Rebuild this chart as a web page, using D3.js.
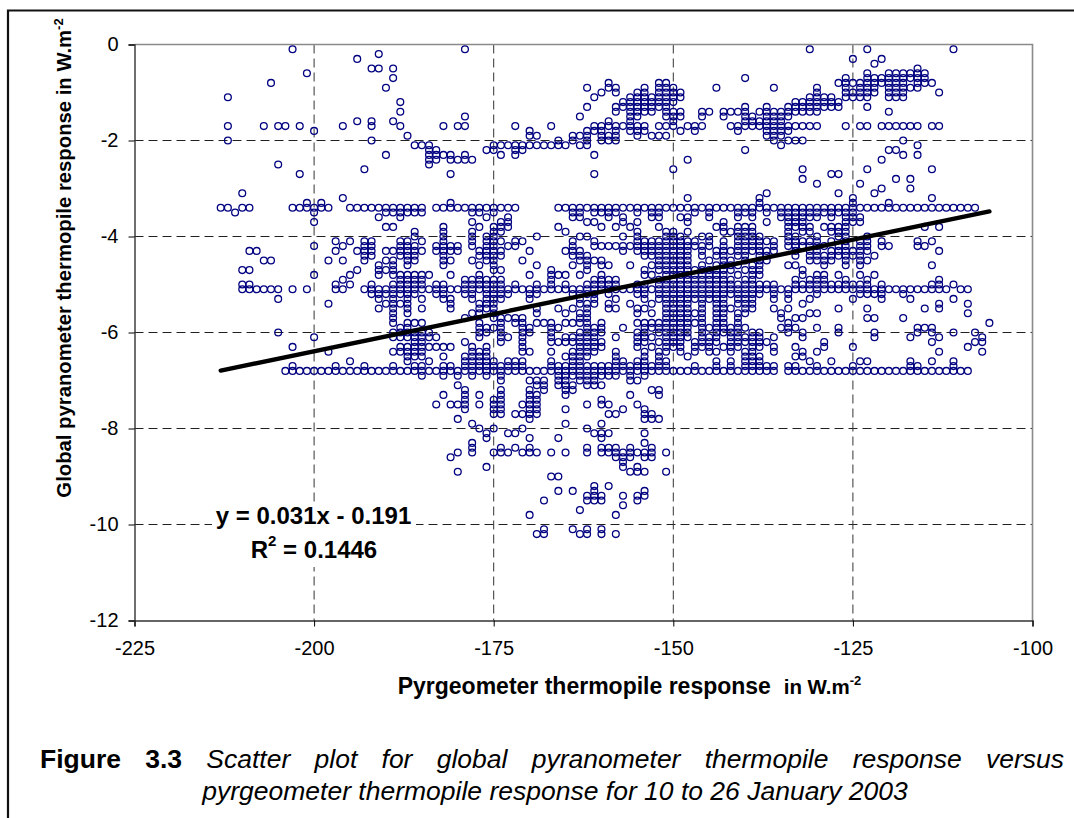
<!DOCTYPE html>
<html lang = 'en'>
    <head>
        <meta charset = 'UTF-8'>
        <title>Figure 3.3</title>
        <script src="https://cdn.jsdelivr.net/npm/d3@7"></script>
        <style>
            body {
                margin: 0;
                background: #fff;
                overflow: hidden;
            }
            text {
                font-family: "Liberation Sans", Arial, sans-serif;
                fill: #000;
            }
            .tickLabel text {
                font-size: 20px;
            }
            .axisTitle {
                font-weight: bold;
            }
            .equation {
                font-size: 24px;
                font-weight: bold;
            }
            .caption {
                font-size: 26.5px;
            }
        </style>
    </head>
    <body>
        <svg id="fig" width="1074" height="818"></svg>
        <script>
            // y values of each row of points, the instrument steps in 0.1 W/m2
            let levels = [-0.1,-0.2,-0.3,-0.4,-0.5,-0.6,-0.7,-0.8,-0.9,-1.0,-1.1,-1.2,-1.3,-1.4,-1.5,-1.6,-1.7,-1.8,-1.9,-2.0,
                -2.1,-2.2,-2.3,-2.4,-2.5,-2.6,-2.7,-2.8,-2.9,-3.0,-3.1,-3.2,-3.3,-3.4,-3.5,-3.6,-3.7,-3.8,-3.9,-4.0,
                -4.1,-4.2,-4.3,-4.4,-4.5,-4.6,-4.7,-4.8,-4.9,-5.0,-5.1,-5.2,-5.3,-5.4,-5.5,-5.6,-5.7,-5.8,-5.9,-6.0,
                -6.1,-6.2,-6.3,-6.4,-6.5,-6.6,-6.7,-6.8,-6.9,-7.0,-7.1,-7.2,-7.3,-7.4,-7.5,-7.6,-7.7,-7.8,-7.9,-8.0,
                -8.1,-8.2,-8.3,-8.4,-8.5,-8.6,-8.7,-8.8,-8.9,-9.0,-9.2,-9.3,-9.4,-9.5,-9.6,-9.7,-9.8,-10.1,-10.2]

            // x values for each level above, same order
            let levelXs = [
                [-203,-179,-131,-123,-111],
                [-191],
                [-194,-125,-121],
                [-122],
                [-192,-191,-189,-116],
                [-201,-123,-120,-119,-118,-117,-116,-115],
                [-189,-140,-126,-123,-122,-121,-120,-119,-118,-117,-116,-115],
                [-206,-159,-152,-151,-127,-126,-125,-124,-123,-122,-121,-120,-119,-118,-116,-115,-114],
                [-190,-162,-159,-158,-154,-152,-151,-150,-144,-136,-130,-126,-124,-123,-122,-120,-119,-118,-117,-116],
                [-160,-158,-155,-154,-152,-151,-150,-149,-130,-126,-125,-124,-123,-122,-120,-119,-118,-113],
                [-212,-161,-156,-155,-154,-153,-152,-151,-150,-149,-131,-130,-129,-128,-126,-125,-124,-123,-120,-119,-118],
                [-188,-157,-156,-155,-154,-153,-152,-151,-150,-133,-132,-131,-130,-129,-128,-127],
                [-162,-158,-157,-156,-155,-154,-153,-152,-151,-140,-137,-134,-133,-132,-131,-130,-129,-128,-127,-123],
                [-188,-158,-156,-155,-154,-153,-151,-150,-149,-146,-145,-143,-142,-141,-140,-138,-137,-136,-135,-134,-133,-132,-131,-130,-120],
                [-179,-163,-156,-155,-151,-150,-149,-146,-143,-140,-139,-137,-136,-135,-134],
                [-194,-192,-189,-159,-156,-150,-140,-139,-138,-137,-136,-135],
                [-212,-207,-205,-204,-202,-196,-192,-188,-182,-180,-179,-172,-167,-161,-160,-159,-158,-157,-156,-155,-154,-152,-151,-150,-148,-147,-146,-142,-141,-140,-139,-138,-137,-136,-135,-134,-133,-132,-131,-130,-126,-124,-123,-121,-120,-119,-118,-117,-116,-114,-113],
                [-200,-170,-162,-161,-160,-158,-156,-155,-154,-149,-147,-141,-137,-136,-135,-134],
                [-187,-170,-169,-164,-163,-162,-160,-159,-158,-155,-153,-152,-151,-137,-136,-135],
                [-212,-192,-166,-164,-162,-160,-159,-158,-136,-134,-133,-132,-118],
                [-186,-185,-184,-175,-174,-173,-172,-171,-170,-169,-168,-167,-166,-165,-163,-162,-135,-116],
                [-184,-183,-176,-175,-172,-171,-140,-120,-119],
                [-190,-184,-183,-182,-181,-179,-174,-172,-161,-118,-116],
                [-184,-183,-181,-180,-179,-178,-148,-121],
                [-205,-184],
                [-193,-150,-132,-123,-114],
                [-202,-181,-161,-128,-127],
                [-132,-119,-117],
                [-130,-124],
                [-121,-117],
                [-210,-137,-127,-122],
                [-196,-148,-138,-125,-114],
                [-201,-199,-181,-138,-125,-120],
                [-213,-212,-210,-209,-203,-202,-201,-200,-199,-198,-195,-194,-193,-192,-191,-190,-189,-188,-187,-186,-185,-183,-182,-181,-180,-179,-178,-177,-176,-175,-174,-173,-172,-166,-165,-164,-163,-162,-161,-160,-159,-158,-157,-156,-155,-154,-153,-152,-151,-150,-149,-148,-147,-146,-145,-144,-143,-142,-141,-140,-139,-138,-137,-136,-135,-134,-133,-132,-131,-130,-129,-128,-127,-126,-125,-124,-123,-122,-121,-120,-119,-118,-117,-116,-115,-114,-113,-112,-111,-110,-109,-108],
                [-211,-200,-190,-189,-188,-187,-186,-185,-178,-177,-175,-164,-163,-161,-160,-159,-158,-155,-153,-152,-147,-145,-141,-140,-139,-137,-135,-134,-133,-132,-131,-130,-129,-128,-127,-126,-125],
                [-191,-188,-176,-173,-164,-163,-159,-157,-153,-152,-149,-148,-145,-141,-139,-135,-134,-133,-132,-131,-130,-128,-126,-125,-124],
                [-200,-178,-174,-173,-162,-161,-157,-155,-148,-143,-137,-134,-133,-132,-126,-125,-124],
                [-190,-189,-182,-177,-175,-174,-173,-166,-160,-158,-156,-152,-144,-143,-141,-140,-139,-134,-133,-132,-131,-129,-128,-127,-126,-115,-113],
                [-186,-182,-178,-175,-174,-165,-155,-151,-150,-148,-143,-142,-141,-140,-139,-134,-132,-131,-128,-127,-126],
                [-186,-182,-178,-176,-175,-169,-163,-162,-157,-155,-151,-150,-149,-146,-145,-141,-140,-139,-138,-134,-133,-130,-127,-126,-123],
                [-197,-195,-193,-192,-188,-187,-185,-182,-178,-176,-175,-174,-172,-171,-164,-161,-155,-154,-153,-152,-151,-150,-149,-148,-147,-145,-143,-141,-140,-139,-138,-137,-136,-134,-133,-132,-131,-130,-128,-126,-124,-123,-121,-116,-114],
                [-200,-196,-193,-192,-188,-187,-186,-183,-182,-181,-180,-178,-176,-175,-173,-172,-164,-161,-160,-159,-158,-157,-156,-155,-154,-153,-152,-151,-150,-149,-148,-147,-146,-145,-143,-141,-140,-139,-138,-136,-134,-133,-132,-131,-130,-129,-127,-126,-124,-123,-121,-120,-116,-115],
                [-209,-208,-197,-194,-193,-192,-190,-189,-188,-187,-186,-185,-183,-182,-181,-180,-177,-176,-175,-174,-170,-165,-164,-163,-157,-155,-154,-153,-152,-151,-150,-149,-148,-146,-144,-143,-142,-141,-140,-139,-138,-137,-136,-133,-131,-130,-128,-127,-126,-125,-124,-123,-113],
                [-193,-192,-188,-187,-186,-182,-177,-176,-175,-174,-164,-163,-162,-154,-153,-152,-151,-150,-149,-148,-146,-144,-143,-141,-140,-138,-137,-133,-131,-130,-129,-128,-127,-126,-125,-124,-122],
                [-207,-206,-198,-196,-193,-190,-189,-187,-186,-182,-181,-178,-176,-175,-171,-163,-162,-161,-160,-152,-151,-150,-149,-148,-145,-143,-142,-140,-138,-137,-131,-130,-129,-128,-126,-124,-123],
                [-191,-189,-187,-182,-177,-175,-169,-164,-162,-160,-159,-156,-153,-152,-151,-150,-149,-148,-146,-144,-143,-142,-141,-139,-138,-134,-133,-129,-126,-124,-114],
                [-210,-209,-194,-191,-190,-189,-175,-174,-167,-162,-154,-152,-151,-150,-149,-148,-147,-146,-145,-144,-143,-142,-140,-139,-138,-132],
                [-200,-195,-191,-189,-188,-187,-186,-185,-184,-181,-177,-170,-167,-166,-165,-163,-160,-154,-153,-151,-150,-149,-148,-147,-146,-145,-144,-143,-141,-139,-138,-132,-130,-129,-127,-124,-122],
                [-196,-188,-187,-186,-185,-179,-178,-177,-176,-175,-174,-167,-161,-160,-159,-158,-152,-151,-150,-149,-148,-147,-146,-145,-144,-143,-142,-140,-139,-133,-131,-130,-129,-126,-123,-113],
                [-210,-209,-197,-195,-192,-189,-188,-187,-186,-185,-183,-182,-179,-178,-177,-176,-175,-174,-172,-169,-167,-165,-162,-161,-160,-159,-158,-155,-154,-152,-151,-150,-149,-148,-147,-146,-145,-144,-143,-142,-141,-140,-139,-138,-137,-136,-133,-132,-131,-130,-129,-128,-127,-126,-125,-124,-123,-121,-114,-113,-111],
                [-210,-209,-208,-207,-206,-205,-203,-201,-197,-196,-193,-192,-191,-190,-189,-188,-187,-186,-185,-184,-183,-182,-181,-180,-179,-178,-177,-176,-175,-174,-173,-172,-171,-170,-169,-168,-167,-166,-165,-164,-163,-162,-161,-160,-159,-158,-157,-156,-155,-154,-153,-152,-151,-150,-149,-148,-147,-146,-145,-144,-143,-142,-141,-140,-139,-138,-137,-136,-135,-134,-133,-132,-131,-130,-129,-128,-127,-126,-125,-124,-123,-122,-121,-120,-119,-118,-117,-116,-115,-114,-113,-112,-110,-109],
                [-192,-191,-190,-189,-188,-187,-186,-183,-182,-179,-178,-176,-175,-174,-173,-170,-169,-164,-163,-162,-161,-159,-155,-154,-152,-151,-150,-149,-148,-147,-146,-145,-144,-143,-142,-141,-140,-139,-138,-136,-134,-130,-124,-123,-122,-121,-118],
                [-205,-191,-189,-187,-185,-182,-181,-178,-176,-175,-174,-170,-163,-161,-158,-154,-152,-151,-150,-149,-148,-147,-146,-145,-144,-143,-141,-140,-139,-136,-134,-131,-125,-121,-117,-111],
                [-198,-190,-189,-188,-187,-181,-177,-176,-175,-163,-162,-161,-159,-156,-153,-151,-150,-149,-148,-146,-144,-143,-141,-140,-139,-132,-113,-109],
                [-191,-189,-187,-185,-181,-177,-176,-175,-169,-166,-164,-162,-159,-158,-155,-154,-151,-150,-149,-148,-146,-144,-143,-142,-140,-139,-136,-134,-127,-123,-115,-113],
                [-189,-187,-178,-177,-175,-169,-165,-163,-162,-155,-153,-151,-150,-149,-148,-147,-146,-144,-143,-141,-140,-135,-131,-130,-109],
                [-189,-179,-175,-174,-173,-172,-171,-163,-162,-151,-150,-149,-148,-146,-144,-143,-141,-135,-133,-132,-123,-122,-118],
                [-189,-187,-186,-185,-177,-174,-172,-171,-169,-168,-167,-165,-164,-163,-162,-160,-155,-154,-153,-152,-151,-150,-149,-148,-147,-146,-144,-143,-141,-134,-106],
                [-188,-187,-177,-176,-175,-174,-171,-170,-167,-166,-162,-161,-160,-157,-154,-153,-152,-151,-150,-149,-148,-146,-145,-144,-143,-142,-141,-140,-135,-134,-133,-130,-127,-116,-115,-114],
                [-205,-189,-188,-187,-186,-185,-184,-177,-176,-174,-171,-170,-167,-163,-162,-161,-160,-155,-154,-152,-151,-150,-149,-148,-146,-144,-143,-142,-141,-139,-138,-134,-132,-127,-122,-116,-114,-111,-108],
                [-200,-189,-188,-187,-186,-185,-184,-183,-177,-174,-173,-171,-167,-165,-164,-163,-162,-161,-158,-155,-154,-153,-151,-150,-149,-148,-146,-145,-144,-142,-141,-140,-139,-138,-136,-132,-122,-117,-113,-107],
                [-186,-185,-179,-174,-171,-167,-166,-165,-164,-163,-162,-161,-160,-155,-154,-152,-151,-150,-149,-147,-146,-145,-144,-142,-141,-140,-139,-138,-137,-129,-114,-108,-107],
                [-203,-188,-187,-186,-185,-184,-183,-182,-181,-178,-176,-171,-163,-162,-161,-160,-155,-153,-151,-150,-149,-147,-146,-145,-143,-142,-141,-139,-138,-136,-133,-129,-125,-109],
                [-198,-189,-188,-187,-186,-185,-178,-177,-176,-171,-170,-167,-164,-163,-162,-161,-158,-154,-152,-151,-149,-147,-145,-144,-142,-140,-139,-136,-132,-130,-113,-107],
                [-187,-186,-185,-182,-179,-178,-177,-176,-165,-164,-163,-162,-158,-154,-152,-148,-140,-139,-138,-133,-132],
                [-195,-187,-184,-179,-178,-177,-176,-175,-173,-172,-171,-167,-164,-163,-158,-157,-155,-154,-152,-151,-144,-142,-140,-139,-138,-131,-128,-124,-123,-117,-114,-111],
                [-203,-197,-193,-189,-186,-185,-182,-181,-179,-178,-177,-176,-175,-174,-173,-172,-171,-167,-166,-165,-164,-163,-162,-161,-160,-159,-158,-157,-156,-155,-154,-153,-152,-151,-147,-144,-142,-140,-139,-138,-137,-136,-134,-133,-130,-125,-117,-116,-111],
                [-204,-203,-202,-201,-200,-199,-198,-197,-196,-195,-194,-193,-192,-191,-190,-189,-188,-187,-186,-185,-184,-183,-182,-181,-180,-179,-178,-177,-176,-175,-174,-173,-172,-171,-170,-169,-168,-167,-166,-165,-164,-163,-162,-161,-160,-159,-158,-157,-156,-155,-154,-153,-152,-151,-150,-149,-148,-147,-146,-145,-144,-143,-142,-141,-140,-139,-138,-137,-136,-134,-133,-132,-131,-130,-129,-128,-127,-126,-125,-124,-123,-122,-121,-120,-119,-118,-117,-116,-115,-114,-113,-112,-111,-110,-109],
                [-185,-182,-180,-178,-176,-174,-166,-165,-164,-163,-162,-161,-160,-159,-158,-156,-154],
                [-174,-170,-169,-168,-166,-165,-163,-162,-161,-156,-155],
                [-180,-169,-168,-166,-165,-164,-162,-161,-160],
                [-179,-174,-170,-168,-165,-164,-153,-152],
                [-182,-179,-177,-174,-170,-169,-165,-156,-152],
                [-179,-175,-174,-170,-169,-160],
                [-183,-181,-180,-179,-177,-175,-174,-171,-170,-169,-162,-160,-159,-155],
                [-179,-175,-174,-170,-169,-165,-157,-154],
                [-175,-174,-172,-171,-170,-169,-159,-158,-154,-153],
                [-180,-170,-154,-153,-152],
                [-178,-165,-160],
                [-177,-175,-171,-162],
                [-176,-173,-172,-161,-160,-159,-154],
                [-176,-170,-166,-160],
                [-178,-154],
                [-178,-174,-172,-170,-162,-160,-159,-158,-156,-153],
                [-180,-178,-175,-174,-173,-171,-170,-169,-167,-165,-162,-160,-159,-158,-157,-156,-155,-154,-153,-151],
                [-181,-158,-157,-156,-154,-153],
                [-157],
                [-176,-157,-155],
                [-180,-156,-155,-154,-151],
                [-167,-166],
                [-161,-159],
                [-166,-164,-161,-154],
                [-162,-161,-160,-157,-155,-154],
                [-168,-162,-161,-160,-155],
                [-157],
                [-163],
                [-170,-158],
                [-168,-164,-162,-160],
                [-169,-168,-163,-162,-160,-158]
            ]

            let xTicks = [-225,-200,-175,-150,-125,-100]
            let yTicks = [0,-2,-4,-6,-8,-10,-12]

            // trendline from the equation printed on the chart
            let slope = 0.031
            let intercept = -0.191
            let fitXs = [-213,-106]

            let points = []
            levels.forEach(function (level, i) {
                levelXs[i].forEach(function (x) { points.push({x: x, y: level}) })
            })

            let svg = d3.select('#fig')
            let left = 134.5, right = 1032.5, top_ = 44.5, bottom = 620.5

            let x = d3.scaleLinear().domain([-225,-100]).range([left, right])
            let y = d3.scaleLinear().domain([-12,0]).range([bottom, top_])

            // outer frame of the document figure
            svg.append('path')
                .attr('d', 'M8,818V10.5H1074')
                .attr('fill', 'none')
                .attr('stroke', '#111')
                .attr('stroke-width', 2.2)

            //gridlines
            svg.append('g').selectAll('line')
                .data(yTicks.slice(1, -1))
                .join('line')
                .attr('x1', left).attr('x2', right)
                .attr('y1', d => y(d)).attr('y2', d => y(d))
                .attr('stroke', '#222')
                .attr('stroke-dasharray', '9,5')
            svg.append('g').selectAll('line')
                .data(xTicks.slice(1, -1))
                .join('line')
                .attr('x1', d => x(d)).attr('x2', d => x(d))
                .attr('y1', top_).attr('y2', bottom)
                .attr('stroke', '#333')
                .attr('stroke-dasharray', '9,5')

            // plot border, top and right are grey
            svg.append('path')
                .attr('d', `M${left},${top_}H${right}V${bottom}`)
                .attr('fill', 'none')
                .attr('stroke', '#8a8a8a')
                .attr('stroke-width', 1.6)

            //axes
            let xAxis = d3.axisBottom(x).tickValues(xTicks).tickSize(6).tickPadding(14).tickFormat(d3.format('d'))
            let yAxis = d3.axisLeft(y).tickValues(yTicks).tickSize(6).tickPadding(10).tickFormat(d3.format('d'))
            let gx = svg.append('g').attr('class', 'tickLabel').attr('transform', `translate(0,${bottom})`).call(xAxis)
            let gy = svg.append('g').attr('class', 'tickLabel').attr('transform', `translate(${left},0)`).call(yAxis)
            gx.selectAll('.domain').attr('stroke', '#333').attr('stroke-width', 1.4)
            gy.selectAll('.domain').attr('stroke', '#333').attr('stroke-width', 1.4)
            gx.selectAll('text').text(d => d3.format('d')(d).replace('\u2212', '-'))
            gy.selectAll('text').text(d => d3.format('d')(d).replace('\u2212', '-'))

            //points
            svg.append('g').selectAll('circle')
                .data(points)
                .join('circle')
                .attr('cx', d => x(d.x))
                .attr('cy', d => y(d.y))
                .attr('r', 3.4)
                .attr('fill', 'none')
                .attr('stroke', '#000080')
                .attr('stroke-width', 1.3)

            //trendline
            svg.append('line')
                .attr('x1', x(fitXs[0])).attr('y1', y(slope * fitXs[0] + intercept))
                .attr('x2', x(fitXs[1])).attr('y2', y(slope * fitXs[1] + intercept))
                .attr('stroke', '#000')
                .attr('stroke-width', 4.4)
                .attr('stroke-linecap', 'round')

            // equation box hides the grid behind it
            svg.append('rect')
                .attr('x', 212).attr('y', 503).attr('width', 204).attr('height', 64)
                .attr('fill', '#fff')
            svg.append('text').attr('class', 'equation')
                .attr('x', 313.5).attr('y', 524).attr('text-anchor', 'middle')
                .text('y = 0.031x - 0.191')
            let r2 = svg.append('text').attr('class', 'equation')
                .attr('x', 314).attr('y', 558).attr('text-anchor', 'middle')
            r2.append('tspan').text('R')
            r2.append('tspan').attr('dy', -12).attr('font-size', 15).text('2')
            r2.append('tspan').attr('dy', 12).text(' = 0.1446')

            //axis titles
            let xTitle = svg.append('text').attr('class', 'axisTitle')
                .attr('x', 629.5).attr('y', 694).attr('text-anchor', 'middle')
                .attr('xml:space', 'preserve')
            xTitle.append('tspan').attr('font-size', 23).text('Pyrgeometer thermopile response  ')
            xTitle.append('tspan').attr('font-size', 20.5).text('in W.m')
            xTitle.append('tspan').attr('dy', -9).attr('font-size', 13).text('-2')

            let yTitle = svg.append('text').attr('class', 'axisTitle')
                .attr('transform', 'translate(71,258) rotate(-90)')
                .attr('text-anchor', 'middle')
                .attr('font-size', 20.3)
            yTitle.append('tspan').text('Global pyranometer thermopile response  in W.m')
            yTitle.append('tspan').attr('dy', -8).attr('font-size', 13).text('-2')

            //caption, first line is justified in the document
            let capWords = ['Scatter','plot','for','global','pyranometer','thermopile','response','versus']
            let cap1 = svg.append('text').attr('class', 'caption').attr('x', 40).attr('y', 768)
            cap1.append('tspan').attr('font-weight', 'bold').text('Figure 3.3')
            cap1.append('tspan').text(' ')
            cap1.append('tspan').attr('font-style', 'italic').text(capWords.join(' '))
            let capGaps = capWords.length + 1
            let spare = 1064 - 40 - cap1.node().getComputedTextLength()
            cap1.attr('word-spacing', spare / capGaps)

            svg.append('text').attr('class', 'caption')
                .attr('x', 555).attr('y', 800).attr('text-anchor', 'middle')
                .attr('font-style', 'italic')
                .text('pyrgeometer thermopile response for 10 to 26 January 2003')
        </script>
    </body>
</html>
